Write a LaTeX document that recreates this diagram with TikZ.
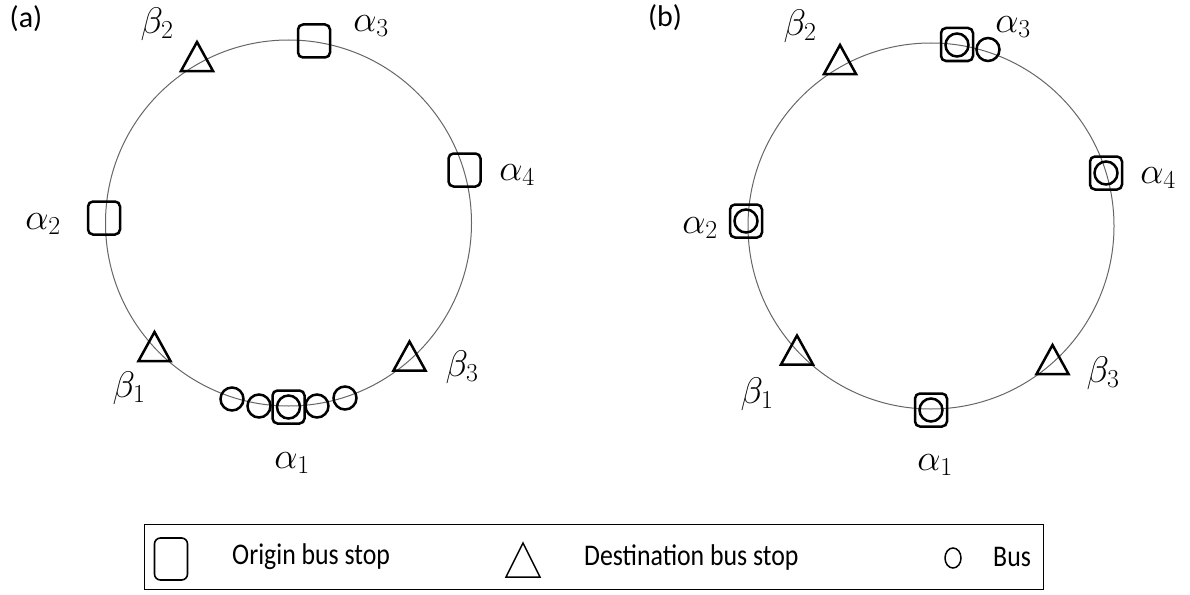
\RequirePackage{fix-cm}
\documentclass[tikz,border=0pt]{standalone}
\usepackage{fontspec}
\newfontfamily\calib{Carlito}
\usetikzlibrary{shapes.geometric}
\newcommand{\legsqueeze}[1]{\scalebox{0.86}[1]{#1}}
\tikzset{
  ring/.style={circle, draw=black!60, line width=1pt, inner sep=0pt, outer sep=0pt, minimum size=366pt},
  stopsq/.style={draw, line width=2.5pt, rounded corners=5pt, minimum width=32pt, minimum height=33pt, inner sep=0pt},
  bus/.style={circle, draw, line width=2.5pt, minimum size=23pt, inner sep=0pt},
  lbl/.style={font=\fontsize{37}{42}\selectfont, inner sep=0pt},
  panel/.style={font=\calib\fontsize{30}{34}\selectfont, inner sep=0pt},
  legtext/.style={font=\calib\fontsize{30}{34}\selectfont, inner sep=0pt, anchor=west},
  desttri/.pic={\draw[line width=2.5pt] (-16,15) -- (0,-14) -- (16,15) -- cycle;},
  legtri/.pic={\draw[line width=1.5pt] (-17,17) -- (0,-17) -- (17,17) -- cycle;}
}
\begin{document}
\begin{tikzpicture}[x=1pt,y=-1pt]
\useasboundingbox (0,0) rectangle (1190,594);
% ---------- panel (a)
\node[panel] (pa) at (26,19) {(a)};
\node[ring] (ringA) at (288.5,223) {};
\node[stopsq] (a3) at (314,41) {};
\node[lbl] (la3) at (371,26) {$\alpha_3$};
\pic (b2) at (197,56) {desttri};
\node[lbl] (lb2) at (157,24) {$\beta_2$};
\node[stopsq] (a2) at (104,218) {};
\node[lbl] (la2) at (43,224) {$\alpha_2$};
\node[stopsq] (a4) at (464.5,170) {};
\node[lbl] (la4) at (517,175) {$\alpha_4$};
\pic (b1) at (154.5,346) {desttri};
\node[lbl] (lb1) at (129,388) {$\beta_1$};
\pic (b3) at (409.5,355.5) {desttri};
\node[lbl] (lb3) at (462,367) {$\beta_3$};
\node[stopsq] (a1) at (288.5,407) {};
\node[bus] (busA1) at (232,399) {};
\node[bus] (busA2) at (259,406) {};
\node[bus] (busA3) at (288.5,407) {};
\node[bus] (busA4) at (317,406) {};
\node[bus] (busA5) at (345,398) {};
\node[lbl] (la1) at (292,463) {$\alpha_1$};
% ---------- panel (b)
\node[panel] (pb) at (665,18) {(b)};
\node[ring] (ringB) at (931,226) {};
\node[stopsq] (c3) at (957,44.5) {};
\node[bus] (busB3) at (957,45) {};
\node[bus] (busB3b) at (988,49.5) {};
\node[lbl] (lc3) at (1013,27) {$\alpha_3$};
\pic (d2) at (840,59) {desttri};
\node[lbl] (ld2) at (800,26) {$\beta_2$};
\node[stopsq] (c2) at (746,221) {};
\node[bus] (busB2) at (746,221) {};
\node[lbl] (lc2) at (700,228) {$\alpha_2$};
\node[stopsq] (c4) at (1106,173) {};
\node[bus] (busB4) at (1106,173) {};
\node[lbl] (lc4) at (1158,178) {$\alpha_4$};
\pic (d1) at (797,349.5) {desttri};
\node[lbl] (ld1) at (757,394) {$\beta_1$};
\pic (d3) at (1052.5,359) {desttri};
\node[lbl] (ld3) at (1103,373) {$\beta_3$};
\node[stopsq] (c1) at (931,410) {};
\node[bus] (busB1) at (931,410) {};
\node[lbl] (lc1) at (935,465) {$\alpha_1$};
% ---------- legend
\node[draw, line width=1pt, minimum width=899pt, minimum height=65pt, inner sep=0pt] (legend) at (593.5,556.5) {};
\node[draw, line width=1.6pt, rounded corners=6pt, minimum width=33pt, minimum height=42pt, inner sep=0pt] (legsq) at (171,559) {};
\node[legtext] (t1) at (232,557) {\legsqueeze{Origin bus stop}};
\pic (legtr) at (523,560) {legtri};
\node[legtext] (t2) at (584,557) {\legsqueeze{Destination bus stop}};
\node[ellipse, draw, line width=1.5pt, minimum width=16pt, minimum height=20pt, inner sep=0pt] (legbus) at (953,558) {};
\node[legtext] (t3) at (993,557) {\legsqueeze{Bus}};
\end{tikzpicture}
\end{document}
